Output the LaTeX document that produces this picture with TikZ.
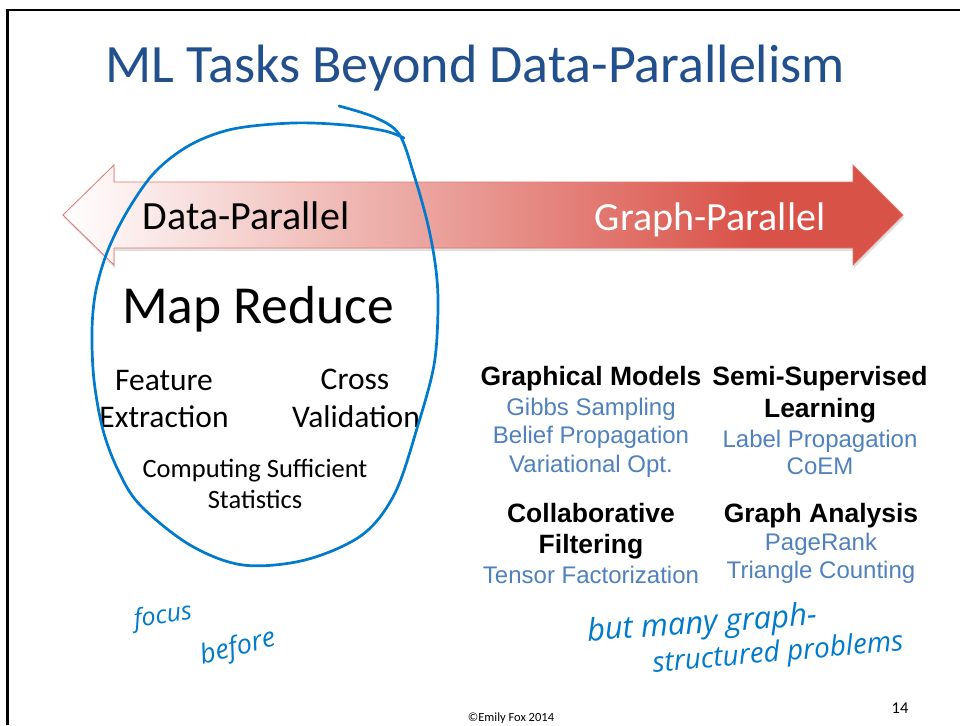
\documentclass[tikz,border=0pt]{standalone}
\usepackage{fontspec}
\setmainfont{Carlito}
\newfontfamily\arialf{Liberation Sans}
\newfontfamily\inkfont{Open Sans}
\definecolor{titleblue}{RGB}{33,80,140}
\definecolor{itemblue}{RGB}{79,129,189}
\definecolor{arrowred}{RGB}{217,82,72}
\definecolor{ink}{RGB}{0,122,204}
% white on the left, full red from about four fifths of the way
\pgfdeclarehorizontalshading{dpgp}{100bp}{color(0bp)=(white); color(25bp)=(white); color(66bp)=(arrowred); color(100bp)=(arrowred)}
\tikzset{
  txt/.style={inner sep=0pt, anchor=base, align=center},
  head/.style={txt, font=\arialf\bfseries\fontsize{26.5}{30}\selectfont, text=black},
  item/.style={txt, font=\arialf\fontsize{24}{27}\selectfont, text=itemblue},
  mrtext/.style={txt, font=\fontsize{31.5}{34}\selectfont},
  handw/.style={inner sep=0pt, text=ink, font=\inkfont\itshape},
}
\begin{document}
\begin{tikzpicture}[x=1pt, y=-1pt]
\useasboundingbox (0,0) rectangle (960,725);
\fill[white] (0,0) rectangle (960,725);
% slide frame
\draw[line width=2.2pt] (7.5,725) -- (7.5,10) -- (960,10);

% title
\node[txt, text=titleblue, font=\fontsize{54}{60}\selectfont] (title) at (475,82) {ML Tasks Beyond Data-Parallelism};

% double arrow from data-parallel to graph-parallel
\fill[black, opacity=0.12] (64,218) -- (115,168) -- (115,185) -- (854,185) -- (854,168) -- (904,218) -- (854,268) -- (854,251) -- (115,251) -- (115,268) -- cycle;
\path[shading=dpgp, draw=arrowred!80, line width=0.8pt] (63,215) -- (114,165) -- (114,182) -- (853,182) -- (853,165) -- (903,215) -- (853,265) -- (853,248) -- (114,248) -- (114,265) -- cycle;
\node[txt, font=\fontsize{40}{46}\selectfont] (dp) at (246,229) {Data-Parallel};
\node[txt, text=white, font=\fontsize{40}{46}\selectfont] (gp) at (710,230) {Graph-Parallel};

% data-parallel side
\node[txt, font=\fontsize{53.5}{60}\selectfont] (mr) at (258,323) {Map Reduce};
\node[mrtext] (fe1) at (164,390) {Feature};
\node[mrtext] (fe2) at (164,427) {Extraction};
\node[mrtext] (cv1) at (355,389) {Cross};
\node[mrtext] (cv2) at (356,427) {Validation};
\node[txt, font=\fontsize{26.5}{30}\selectfont] (cs1) at (255,477) {Computing Sufficient};
\node[txt, font=\fontsize{26.5}{30}\selectfont] (cs2) at (255,508) {Statistics};

% graph-parallel side
\node[head] (gm) at (591,385) {Graphical Models};
\node[item] (gm1) at (591,415) {Gibbs Sampling};
\node[item] (gm2) at (591,443) {Belief Propagation};
\node[item] (gm3) at (591,472) {Variational Opt.};

\node[head] (ss1) at (820,385) {Semi-Supervised};
\node[head] (ss2) at (820,417) {Learning};
\node[item] (ss3) at (820,447) {Label Propagation};
\node[item] (ss4) at (820,474) {CoEM};

\node[head] (cf1) at (591,522) {Collaborative};
\node[head] (cf2) at (591,553) {Filtering};
\node[item] (cf3) at (591,583) {Tensor Factorization};

\node[head] (ga) at (821,522) {Graph Analysis};
\node[item] (ga1) at (821,550) {PageRank};
\node[item] (ga2) at (821,578) {Triangle Counting};

% hand-drawn loop around the data-parallel tasks
\draw[ink, line width=2.7pt, line cap=round, line join=round]
  plot[smooth, tension=0.55] coordinates {
  (339,106) (374,117) (399,134) (414,175) (428,225) (436,270) (438,310)
  (434,365) (418,425) (395,493) (362,535) (305,560) (243,565) (190,545)
  (140,505) (118,470) (103,430) (94,380) (92,330) (96,290) (108,250)
  (128,210) (155,172) (190,145) (233,129) (293,123) (345,125) (385,131) (404,138)};

% handwritten notes
\node[handw, font=\inkfont\itshape\fontsize{25}{28}\selectfont, rotate=8] (n1) at (163,617) {focus};
\node[handw, font=\inkfont\itshape\fontsize{27}{30}\selectfont, rotate=14] (n2) at (238,648) {before};
\node[handw, font=\inkfont\itshape\fontsize{31}{34}\selectfont, rotate=4] (n3) at (702,625) {but many graph-};
\node[handw, font=\inkfont\itshape\fontsize{28}{30}\selectfont, rotate=5] (n4) at (778,654) {structured problems};

% footer
\node[txt, font=\fontsize{16.5}{18}\selectfont] (pg) at (900,713) {14};
\node[txt, font=\fontsize{12.5}{14}\selectfont] (cr) at (511,721) {\textcopyright Emily Fox 2014};
\end{tikzpicture}
\end{document}
